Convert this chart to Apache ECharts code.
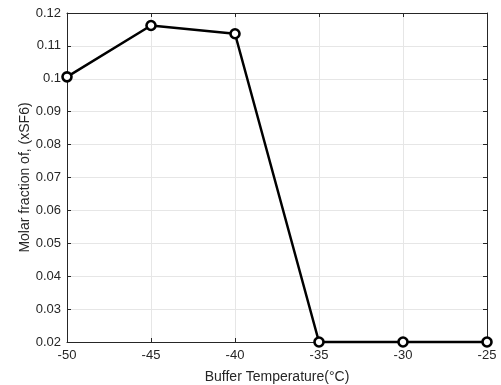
<!DOCTYPE html>
<html><head><meta charset="utf-8">
<script src="https://cdn.jsdelivr.net/npm/echarts@6/dist/echarts.min.js"></script>
<style>html,body{margin:0;padding:0;background:#fff}#c{width:501px;height:385px}</style>
</head><body><div id="c"></div>
<script>
var temps = [-50, -45, -40, -35, -30, -25];
var xsf6 = [0.1006, 0.1162, 0.1137, 0.02, 0.02, 0.02];
var xTitle = 'Buffer Temperature(°C)';
var yTitle = 'Molar fraction of, (xSF6)';

var font = 'Liberation Sans, Arial, sans-serif';
var chart = echarts.init(document.getElementById('c'));
var lineCol = '#262626';
var axBase = {
  axisLine: {show: true, lineStyle: {color: lineCol, width: 1}},
  axisTick: {show: true, inside: true, length: 4, lineStyle: {color: lineCol}},
};
chart.setOption({
  animation: false,
  grid: {left: 67, right: 14, top: 13, bottom: 43, outerBoundsMode: 'none', containLabel: false},
  xAxis: [
    Object.assign({
      type: 'value', min: -50, max: -25, interval: 5, position: 'bottom',
      name: xTitle, nameLocation: 'middle', nameGap: 28, nameMoveOverlap: false,
      nameTextStyle: {color: '#262626', fontSize: 14, fontFamily: font},
      axisLabel: {color: '#262626', fontSize: 13, fontFamily: font, margin: 7},
      splitLine: {show: true, lineStyle: {color: '#e6e6e6', width: 1}}
    }, axBase),
    Object.assign({
      type: 'value', min: -50, max: -25, interval: 5, position: 'top',
      axisLabel: {show: false}, splitLine: {show: false}
    }, axBase)
  ],
  yAxis: [
    Object.assign({
      type: 'value', min: 0.02, max: 0.12, interval: 0.01, position: 'left',
      name: yTitle, nameLocation: 'middle', nameGap: 35, nameMoveOverlap: false,
      nameTextStyle: {color: '#262626', fontSize: 14, fontFamily: font},
      axisLabel: {color: '#262626', fontSize: 13, fontFamily: font, margin: 6,
        formatter: function(v){ return String(parseFloat(v.toFixed(2))); }},
      splitLine: {show: true, lineStyle: {color: '#e6e6e6', width: 1}}
    }, axBase),
    Object.assign({
      type: 'value', min: 0.02, max: 0.12, interval: 0.01, position: 'right',
      axisLabel: {show: false}, splitLine: {show: false}
    }, axBase)
  ],
  series: [{
    type: 'line',
    data: temps.map(function(t, i){ return [t, xsf6[i]]; }),
    lineStyle: {color: '#000', width: 2.5},
    symbol: 'circle', symbolSize: 9,
    itemStyle: {color: '#fff', borderColor: '#000', borderWidth: 2.6},
    clip: false, z: 5
  }]
});
</script></body></html>
